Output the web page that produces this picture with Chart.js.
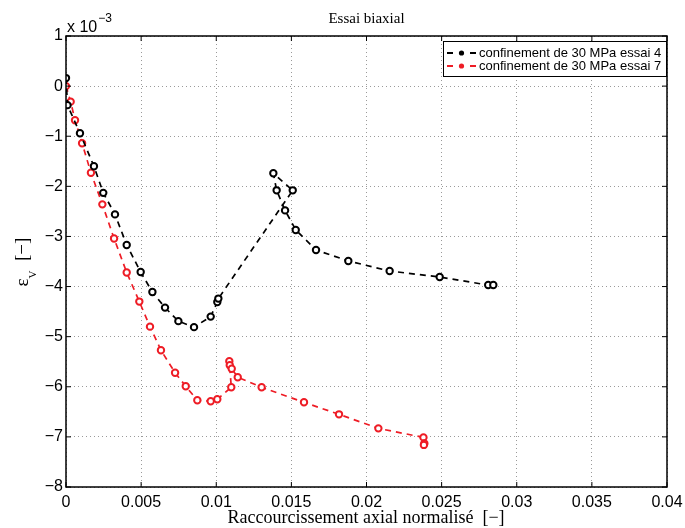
<!DOCTYPE html>
<html>
<head>
<meta charset="utf-8">
<script src="https://cdn.jsdelivr.net/npm/chart.js@4/dist/chart.umd.min.js"></script>
<style>
  html, body { margin: 0; padding: 0; background: #fff; }
  #wrap { width: 685px; height: 528px; }
</style>
</head>
<body>
<div id="wrap"><canvas id="chart" width="685" height="528"></canvas></div>
<script>
const X_TICKS = [0, 0.005, 0.01, 0.015, 0.02, 0.025, 0.03, 0.035, 0.04];
const Y_TICKS = [-8, -7, -6, -5, -4, -3, -2, -1, 0, 1];

// essai 4 (black), eps_v in units of 1e-3
const ESSAI4_X = [0, 0.0001, 0.00093, 0.00186, 0.00248, 0.00326, 0.00404, 0.00497, 0.00575, 0.00659,
  0.00748, 0.00852, 0.00963, 0.01007, 0.01014, 0.01509, 0.0138, 0.01402, 0.01458, 0.01529,
  0.01664, 0.01879, 0.02154, 0.02487, 0.0281, 0.02844];
const ESSAI4_Y = [0.16, -0.38, -0.94, -1.6, -2.13, -2.56, -3.17, -3.71, -4.11, -4.42,
  -4.69, -4.81, -4.6, -4.31, -4.24, -2.08, -1.74, -2.08, -2.48, -2.87,
  -3.27, -3.49, -3.69, -3.81, -3.97, -3.97];

// essai 7 (red)
const ESSAI7_X = [0, 0.00031, 0.0006, 0.00107, 0.00166, 0.00242, 0.0032, 0.00404, 0.00488, 0.00559,
  0.00632, 0.00726, 0.00797, 0.00874, 0.00963, 0.01007, 0.011, 0.01087, 0.0109, 0.01103,
  0.01143, 0.01302, 0.01584, 0.01817, 0.02079, 0.02379, 0.02385, 0.02382];
const ESSAI7_Y = [0, -0.31, -0.68, -1.14, -1.73, -2.36, -3.04, -3.72, -4.3, -4.8,
  -5.27, -5.72, -5.99, -6.27, -6.29, -6.25, -6.01, -5.49, -5.57, -5.64,
  -5.81, -6.01, -6.31, -6.55, -6.83, -7.01, -7.13, -7.16];

const SERIES_LABELS = ['confinement de 30 MPa essai 4', 'confinement de 30 MPa essai 7'];
const SERIES_COLORS = ['#000000', '#ee1c25'];

function pts(xs, ys) { return xs.map((x, i) => ({ x: x, y: ys[i] })); }

const SANS = '"Liberation Sans", Arial, sans-serif';
const SERIF = '"Liberation Serif", "Times New Roman", serif';

const decorations = {
  id: 'decorations',
  afterDraw(chart) {
    const ctx = chart.ctx;
    const a = chart.chartArea;
    const xs = chart.scales.x, ys = chart.scales.y;
    ctx.save();
    // frame
    ctx.strokeStyle = '#000';
    ctx.lineWidth = 1.5;
    ctx.strokeRect(a.left, a.top, a.right - a.left, a.bottom - a.top);
    // inward ticks
    ctx.lineWidth = 1;
    X_TICKS.forEach(v => {
      const p = xs.getPixelForValue(v);
      ctx.beginPath();
      ctx.moveTo(p, a.bottom); ctx.lineTo(p, a.bottom - 5);
      ctx.moveTo(p, a.top); ctx.lineTo(p, a.top + 5);
      ctx.stroke();
    });
    Y_TICKS.forEach(v => {
      const p = ys.getPixelForValue(v);
      ctx.beginPath();
      ctx.moveTo(a.left, p); ctx.lineTo(a.left + 5, p);
      ctx.moveTo(a.right, p); ctx.lineTo(a.right - 5, p);
      ctx.stroke();
    });

    // title
    ctx.fillStyle = '#000';
    ctx.textAlign = 'center';
    ctx.textBaseline = 'alphabetic';
    ctx.font = '15px ' + SERIF;
    ctx.fillText('Essai biaxial', (a.left + a.right) / 2, 23);

    // multiplier
    ctx.textAlign = 'left';
    ctx.font = '16px ' + SANS;
    ctx.fillText('x 10', a.left + 1, 32);
    const w = ctx.measureText('x 10').width;
    ctx.font = '12px ' + SANS;
    ctx.fillText('\u22123', a.left + 2 + w, 22);

    // x title
    ctx.textAlign = 'center';
    ctx.font = '18px ' + SERIF;
    ctx.fillText('Raccourcissement axial normalis\u00e9  [\u2212]', (a.left + a.right) / 2 - 0.5, 523);

    // y title
    ctx.save();
    ctx.translate(28, 262);
    ctx.rotate(-Math.PI / 2);
    ctx.textAlign = 'left';
    ctx.font = '19px ' + SERIF;
    const t1 = '\u03b5';
    const t1w = ctx.measureText(t1).width;
    ctx.font = '11px ' + SERIF;
    const t2w = ctx.measureText('V').width;
    ctx.font = '19px ' + SERIF;
    const t3 = '  [\u2212]';
    const t3w = ctx.measureText(t3).width;
    let x0 = -(t1w + t2w + t3w) / 2;
    ctx.fillText(t1, x0, 0);
    ctx.font = '11px ' + SERIF;
    ctx.fillText('V', x0 + t1w, 8);
    ctx.font = '19px ' + SERIF;
    ctx.fillText(t3, x0 + t1w + t2w, 0);
    ctx.restore();

    // legend
    const lx = 443, ly = 41, lw = a.right - 443, lh = 36;
    ctx.fillStyle = '#fff';
    ctx.fillRect(lx, ly, lw, lh);
    ctx.strokeStyle = '#000';
    ctx.lineWidth = 1;
    ctx.strokeRect(lx + 0.5, ly + 0.5, lw - 1, lh - 1);
    ctx.font = '13px ' + SANS;
    ctx.textAlign = 'left';
    ctx.textBaseline = 'middle';
    SERIES_LABELS.forEach((lab, i) => {
      const cy = ly + 12 + i * 13;
      ctx.strokeStyle = SERIES_COLORS[i];
      ctx.lineWidth = 1.8;
      ctx.beginPath();
      ctx.moveTo(447, cy); ctx.lineTo(453, cy);
      ctx.moveTo(470, cy); ctx.lineTo(476, cy);
      ctx.stroke();
      ctx.beginPath();
      ctx.arc(461.5, cy, 2.6, 0, Math.PI * 2);
      ctx.fillStyle = SERIES_COLORS[i];
      ctx.fill();
      ctx.fillStyle = '#000';
      ctx.fillText(lab, 479, cy + 0.5);
    });
    ctx.restore();
  }
};

function dataset(label, xs, ys, color) {
  return {
    label: label,
    data: pts(xs, ys),
    showLine: true,
    borderColor: color,
    borderWidth: 1.7,
    borderDash: [6, 5],
    pointRadius: 3.2,
    pointBorderWidth: 2,
    pointBorderColor: color,
    pointBackgroundColor: '#ffffff',
    tension: 0
  };
}

new Chart(document.getElementById('chart'), {
  type: 'scatter',
  data: {
    datasets: [
      dataset(SERIES_LABELS[0], ESSAI4_X, ESSAI4_Y, SERIES_COLORS[0]),
      dataset(SERIES_LABELS[1], ESSAI7_X, ESSAI7_Y, SERIES_COLORS[1])
    ]
  },
  options: {
    responsive: false,
    animation: false,
    layout: { padding: { left: 0, right: 18, top: 36, bottom: 0 } },
    plugins: { legend: { display: false }, tooltip: { enabled: false } },
    scales: {
      x: {
        type: 'linear',
        min: 0, max: 0.04,
        afterFit: s => { s.height = 41; s.paddingLeft = 0; s.paddingRight = 0; },
        afterBuildTicks: s => { s.ticks = X_TICKS.map(v => ({ value: v })); },
        ticks: {
          color: '#000',
          font: { family: SANS, size: 16 },
          padding: 6,
          maxRotation: 0,
          autoSkip: false,
          callback: v => String(+Number(v).toFixed(3))
        },
        grid: { color: '#9a9a9a', lineWidth: 1, drawTicks: false },
        border: { display: false, dash: [1, 3] }
      },
      y: {
        type: 'linear',
        min: -8, max: 1,
        afterFit: s => { s.width = 66; s.paddingTop = 0; s.paddingBottom = 0; },
        afterBuildTicks: s => { s.ticks = Y_TICKS.map(v => ({ value: v })); },
        ticks: {
          color: '#000',
          font: { family: SANS, size: 16 },
          padding: 3,
          autoSkip: false,
          callback: v => (v < 0 ? '\u2212' + Math.abs(v) : String(v))
        },
        grid: { color: '#9a9a9a', lineWidth: 1, drawTicks: false },
        border: { display: false, dash: [1, 3] }
      }
    }
  },
  plugins: [decorations]
});
</script>
</body>
</html>
